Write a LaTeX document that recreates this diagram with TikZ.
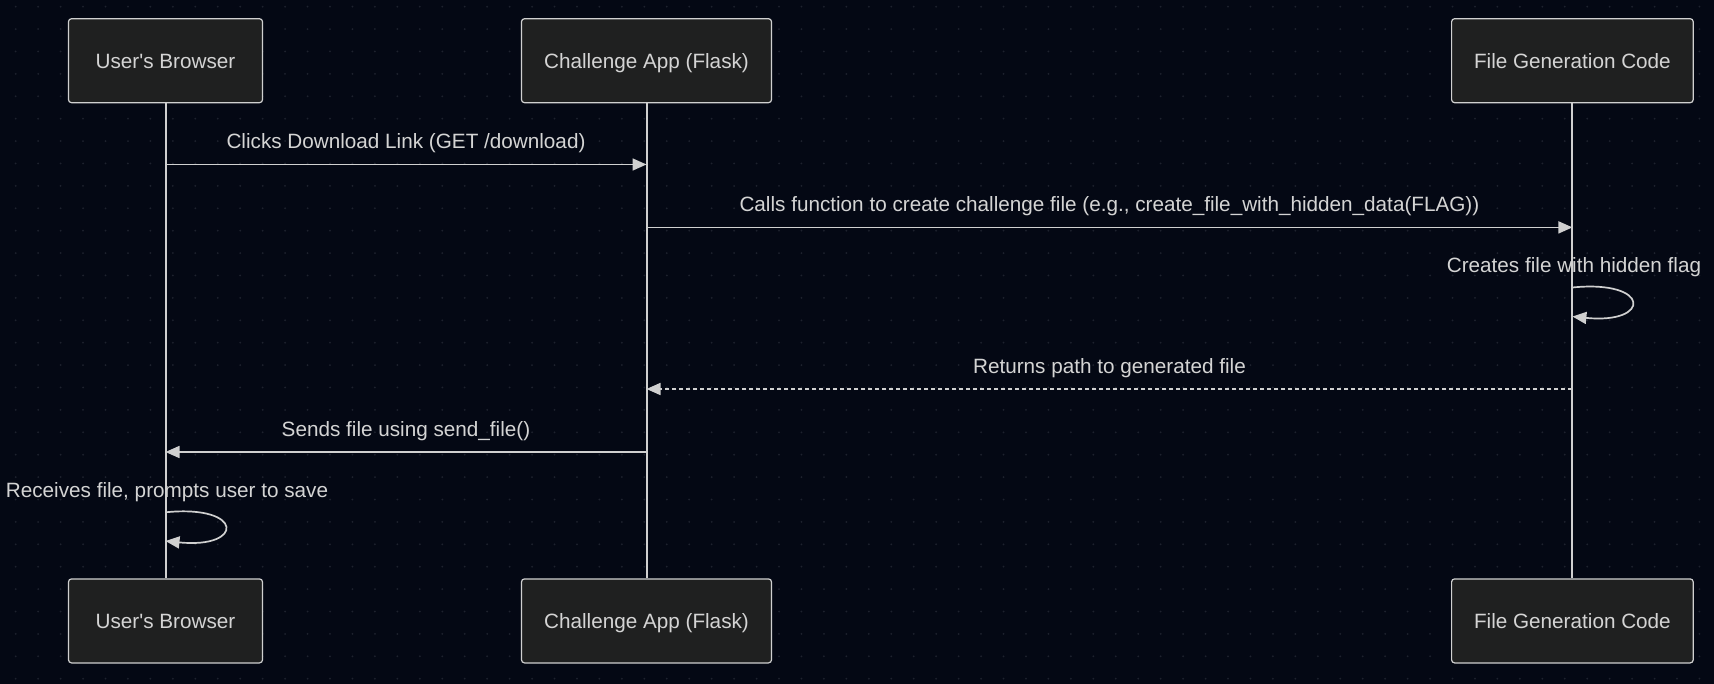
\documentclass[tikz,border=0pt]{standalone}
\usepackage{fontspec}
\setmainfont{Liberation Sans}[Ligatures=TeXOff]
\usetikzlibrary{arrows.meta}
\definecolor{bg}{RGB}{4,8,20}
\definecolor{dotc}{RGB}{30,34,46}
\definecolor{boxfill}{RGB}{31,32,32}
\definecolor{linec}{RGB}{208,208,208}
\definecolor{txtc}{RGB}{212,212,212}
\tikzset{
  actor/.style={draw=linec, fill=boxfill, line width=1.2pt, rounded corners=3pt, text=txtc,
    minimum height=84pt, text height=16pt, text depth=0pt, font=\fontsize{20.7}{24}\selectfont},
  lifeline/.style={draw=linec, line width=2pt},
  msg/.style={draw=linec, line width=1.7pt, -{Triangle[length=14pt,width=12pt]}},
  rmsg/.style={msg, dash pattern=on 4pt off 3pt},
  lbl/.style={text=txtc, font=\fontsize{20.7}{24}\selectfont, inner sep=0pt, anchor=base},
  mlbl/.style={lbl, midway, yshift=15.6pt},
}
\begin{document}
\begin{tikzpicture}[x=1pt,y=-1pt]
\fill[bg] (0,0) rectangle (1714,684);
\useasboundingbox (0,0) rectangle (1714,684);
\foreach \i in {0,...,76}{
  \foreach \j in {0,...,30}{
    \fill[dotc] ({15.7+22.45*\i},{6.7+22.4*\j}) circle (1pt);
  }
}
% actors
\node[actor, minimum width=194pt] (ub) at (165.5,60.7) {User's Browser};
\node[actor, minimum width=250pt] (ca) at (646.5,60.7) {Challenge App (Flask)};
\node[actor, minimum width=241.6pt] (fg) at (1572.4,60.7) {File Generation Code};
\node[actor, minimum width=194pt] (ub2) at (165.5,620.9) {User's Browser};
\node[actor, minimum width=250pt] (ca2) at (646.5,620.9) {Challenge App (Flask)};
\node[actor, minimum width=241.6pt] (fg2) at (1572.4,620.9) {File Generation Code};
\draw[lifeline] (ub) -- (ub2);
\draw[lifeline] (ca) -- (ca2);
\draw[lifeline] (fg) -- (fg2);
% anchor coordinates on lifelines
\coordinate (a1) at (165.5,164.5);
\coordinate (b1) at (646.5,164.5);
\coordinate (b2) at (646.5,227.4);
\coordinate (c2) at (1572.4,227.4);
\coordinate (c3s) at (1572.4,287.5);
\coordinate (c3e) at (1572.4,316.5);
\coordinate (c4) at (1572.4,389);
\coordinate (b4) at (646.5,389);
\coordinate (b5) at (646.5,452);
\coordinate (a5) at (165.5,452);
\coordinate (a6s) at (165.5,512.3);
\coordinate (a6e) at (165.5,541);
% messages
\draw[msg] (a1) -- node[mlbl] {Clicks Download Link (GET /download)} (b1);
\draw[msg] (b2) -- node[mlbl] {Calls function to create challenge file (e.g., create\_file\_with\_hidden\_data(FLAG))} (c2);
\node[lbl] at (1574,272.7) {Creates file with hidden flag};
\draw[msg] (c3s) .. controls ++(79,-8) and ++(79,8) .. (c3e);
\draw[rmsg] (c4) -- node[mlbl] {Returns path to generated file} (b4);
\draw[msg] (b5) -- node[mlbl] {Sends file using send\_file()} (a5);
\node[lbl] at (167,497.7) {Receives file, prompts user to save};
\draw[msg] (a6s) .. controls ++(79,-8) and ++(79,8) .. (a6e);
\end{tikzpicture}
\end{document}
